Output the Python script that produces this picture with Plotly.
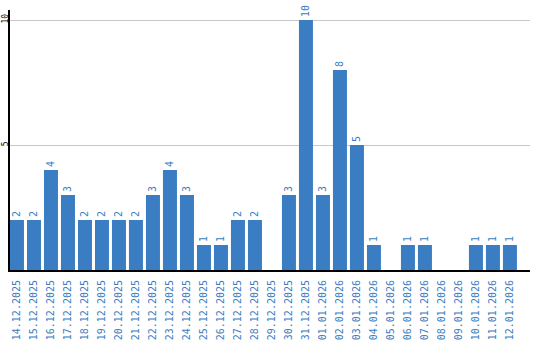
import plotly.graph_objects as go

dates = ["14.12.2025", "15.12.2025", "16.12.2025", "17.12.2025", "18.12.2025",
         "19.12.2025", "20.12.2025", "21.12.2025", "22.12.2025", "23.12.2025",
         "24.12.2025", "25.12.2025", "26.12.2025", "27.12.2025", "28.12.2025",
         "29.12.2025", "30.12.2025", "31.12.2025", "01.01.2026", "02.01.2026",
         "03.01.2026", "04.01.2026", "05.01.2026", "06.01.2026", "07.01.2026",
         "08.01.2026", "09.01.2026", "10.01.2026", "11.01.2026", "12.01.2026"]
counts = [2, 2, 4, 3, 2, 2, 2, 2, 3, 4, 3, 1, 1, 2, 2, None, 3, 10, 3, 8,
          5, 1, None, 1, 1, None, None, 1, 1, 1]
y_ticks = [5, 10]

BLUE = "#3a7dc2"
FONT = "DejaVu Sans Mono"

fig = go.Figure(go.Bar(
    x=dates, y=counts,
    marker=dict(color=BLUE, line=dict(width=0)),
    text=[("" if v is None else str(v)) for v in counts],
    textposition="outside", textangle=-90,
    textfont=dict(family=FONT, size=10, color=BLUE),
    cliponaxis=False,
))

fig.update_layout(
    width=540, height=340,
    margin=dict(l=10, r=10, t=10, b=70),
    paper_bgcolor="white", plot_bgcolor="white",
    bargap=3 / 17,
    showlegend=False,
    xaxis=dict(
        type="category", range=[-0.41, 30.18], automargin=False,
        tickangle=-90, tickfont=dict(family=FONT, size=10, color=BLUE),
        showline=True, linecolor="black", linewidth=2,
        showgrid=False, ticks="", ticklabelstandoff=4,
    ),
    yaxis=dict(
        range=[0, 10.4], tickvals=y_ticks, ticktext=[str(t) for t in y_ticks],
        automargin=False,
        tickangle=-90, tickfont=dict(family=FONT, size=8, color="black"),
        showline=True, linecolor="black", linewidth=2,
        showgrid=True, gridcolor="#c8c8c8", gridwidth=1,
        zeroline=False, ticks="", ticklabelstandoff=-3,
    ),
)

fig.write_html("out.html")
